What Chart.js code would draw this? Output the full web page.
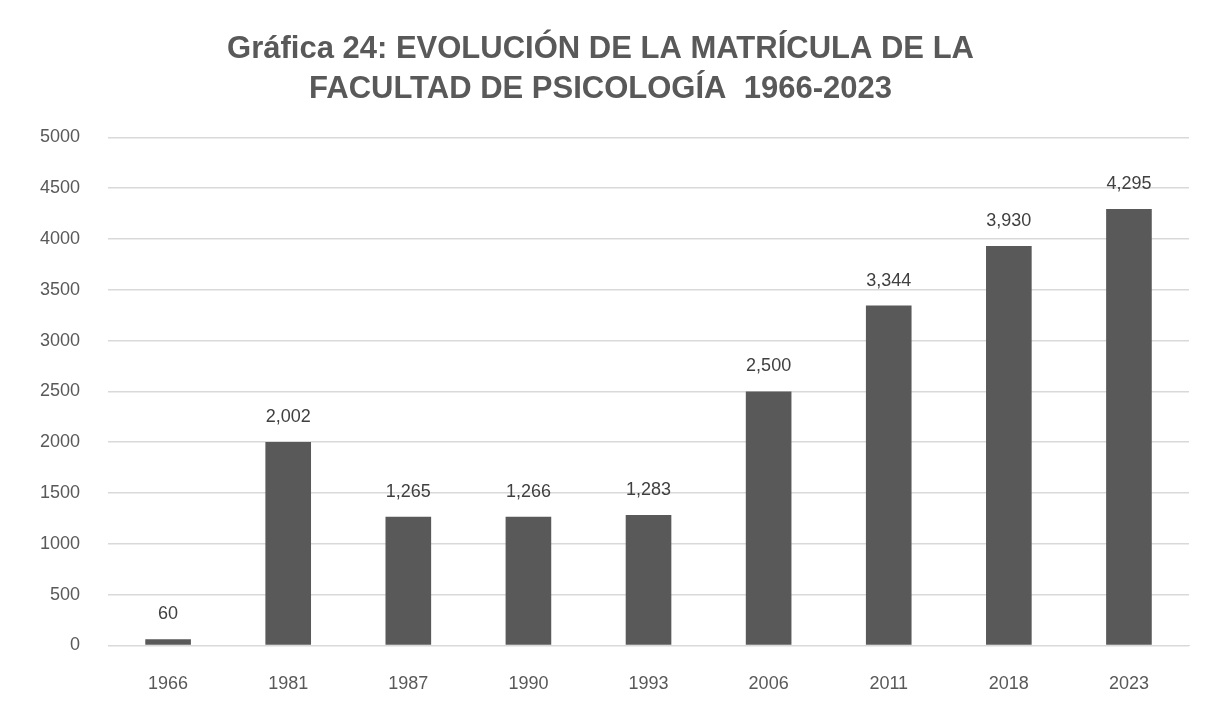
<!DOCTYPE html>
<html>
<head>
<meta charset="utf-8">
<script src="https://cdn.jsdelivr.net/npm/chart.js@4"></script>
<style>
  html, body { margin: 0; padding: 0; background: #ffffff; }
  #wrap { width: 1215px; height: 710px; }
</style>
</head>
<body>
<div id="wrap"><canvas id="myChart" width="1215" height="710"></canvas></div>
<script>
const years = ['1966', '1981', '1987', '1990', '1993', '2006', '2011', '2018', '2023']
const students = [60, 2002, 1265, 1266, 1283, 2500, 3344, 3930, 4295]
const titleLines = ['Gráfica 24: EVOLUCIÓN DE LA MATRÍCULA DE LA', 'FACULTAD DE PSICOLOGÍA  1966-2023']

// little plugin to write the value above each bar (no datalabels plugin offline)
const barValues = {
  id: 'barValues',
  afterDatasetsDraw(chart) {
    const c = chart.ctx
    const meta = chart.getDatasetMeta(0)
    c.save()
    c.font = '18px "Liberation Sans", Arial'
    c.fillStyle = '#404040'
    c.textAlign = 'center'
    c.textBaseline = 'bottom'
    meta.data.forEach((bar, i) => {
      c.fillText(students[i].toLocaleString('en-US'), bar.x, bar.y - 16)
    })
    c.restore()
  }
}

const ctx = document.getElementById('myChart')

const myChart = new Chart(ctx, {
  type: 'bar',
  data: {
    labels: years,
    datasets: [{
      label: 'Matrícula',
      data: students,
      backgroundColor: '#595959',
      borderWidth: 0,
      barPercentage: 0.38,
      categoryPercentage: 1
    }]
  },
  options: {
    responsive: false,
    animation: false,
    layout: {
      padding: { top: 30, right: 26, left: 12, bottom: -5 }
    },
    scales: {
      x: {
        grid: { display: false },
        border: { color: '#d9d9d9' },
        ticks: {
          color: '#595959',
          font: { size: 18, family: '"Liberation Sans", Arial' },
          padding: 20
        }
      },
      y: {
        min: 0,
        max: 5000,
        grid: { color: '#d9d9d9', lineWidth: 1.5, drawTicks: false },
        border: { display: false },
        ticks: {
          stepSize: 500,
          color: '#595959',
          font: { size: 18, family: '"Liberation Sans", Arial' },
          padding: 28,
          callback: v => String(v)
        }
      }
    },
    plugins: {
      legend: { display: false },
      tooltip: { enabled: false },
      title: {
        display: true,
        text: titleLines,
        color: '#595959',
        font: { size: 31, family: '"Liberation Sans", Arial', weight: 'bold', lineHeight: 1.28 },
        padding: { top: 0, bottom: 28 }
      }
    }
  },
  plugins: [barValues]
});
</script>
</body>
</html>
